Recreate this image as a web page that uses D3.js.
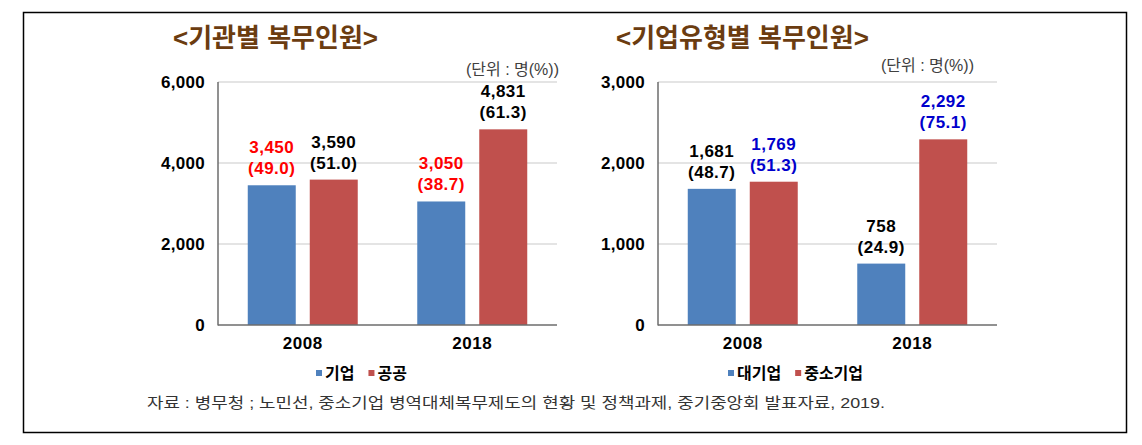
<!DOCTYPE html>
<html><head><meta charset="utf-8">
<script src="https://cdn.jsdelivr.net/npm/d3@7"></script>
<style>
html,body{margin:0;padding:0;background:#fff;}
svg{display:block;}
text{font-family:"Liberation Sans","Noto Sans CJK KR",sans-serif;}
</style></head>
<body>
<svg id="c" width="1142" height="445"></svg>
<script>
// ---- data ----
const years = ["2008", "2018"];
const leftTitle = "<기관별 복무인원>";
const rightTitle = "<기업유형별 복무인원>";
const unitText = "(단위 : 명(%))";
const leftSeriesNames = ["기업", "공공"];
const leftCorp = [3450, 3050];
const leftCorpPct = ["49.0", "38.7"];
const leftPublic = [3590, 4831];
const leftPublicPct = ["51.0", "61.3"];
const leftTicks = [0, 2000, 4000, 6000];
const rightSeriesNames = ["대기업", "중소기업"];
const rightLarge = [1681, 758];
const rightLargePct = ["48.7", "24.9"];
const rightSme = [1769, 2292];
const rightSmePct = ["51.3", "75.1"];
const rightTicks = [0, 1000, 2000, 3000];
const sourceText = "자료 :  병무청 ; 노민선, 중소기업 병역대체복무제도의 현황 및 정책과제, 중기중앙회 발표자료, 2019.";

const BLUE = "#4f81bd", RED = "#c0504d";
const svg = d3.select("#c");

// outer frame
svg.append("rect").attr("x", 23.5).attr("y", 12.5).attr("width", 1103).attr("height", 420)
  .attr("fill", "none").attr("stroke", "#000").attr("stroke-width", 1.5);

function panel(opt) {
  const g = svg.append("g");
  const y = d3.scaleLinear().domain([0, opt.max]).range([325, 82]);
  const x0 = d3.scaleBand().domain(years).range([opt.x0, opt.x1]).padding(0);
  const x1 = d3.scaleBand().domain(opt.names).range([0, x0.bandwidth()])
    .paddingInner(0.226).paddingOuter(0.48);

  // gridlines
  g.selectAll("line.grid").data(opt.ticks.filter(t => t > 0)).join("line")
    .attr("x1", opt.x0).attr("x2", opt.x1)
    .attr("y1", d => y(d)).attr("y2", d => y(d))
    .attr("stroke", "#e4e4e4").attr("stroke-width", 2);

  // bars
  const series = [
    {name: opt.names[0], vals: opt.a, pct: opt.aPct, color: BLUE, lc: opt.aLabel},
    {name: opt.names[1], vals: opt.b, pct: opt.bPct, color: RED, lc: opt.bLabel}
  ];
  series.forEach(s => {
    g.selectAll(null).data(years).join("rect")
      .attr("x", (d) => x0(d) + x1(s.name))
      .attr("y", (d, i) => y(s.vals[i]))
      .attr("width", x1.bandwidth())
      .attr("height", (d, i) => y(0) - y(s.vals[i]))
      .attr("fill", s.color);
    const lab = g.selectAll(null).data(years).join("text")
      .attr("text-anchor", "middle")
      .attr("font-size", 17).attr("font-weight", "bold")
      .attr("letter-spacing", 0.5)
      .attr("fill", s.lc);
    lab.append("tspan")
      .attr("x", d => x0(d) + x1(s.name) + x1.bandwidth() / 2)
      .attr("y", (d, i) => y(s.vals[i]) - 38).attr("dy", "0.35em")
      .text((d, i) => d3.format(",")(s.vals[i]));
    lab.append("tspan")
      .attr("x", d => x0(d) + x1(s.name) + x1.bandwidth() / 2)
      .attr("y", (d, i) => y(s.vals[i]) - 17).attr("dy", "0.35em")
      .text((d, i) => "(" + s.pct[i] + ")");
  });

  // y axis
  const ya = g.append("g").attr("transform", `translate(${opt.x0},0)`)
    .call(d3.axisLeft(y).tickValues(opt.ticks).tickSize(0).tickPadding(13).tickFormat(d3.format(",")));
  ya.select(".domain").remove();
  ya.selectAll("text").attr("font-size", 17).attr("font-weight", "bold").attr("fill", "#000")
    .attr("font-family", "Liberation Sans, sans-serif").attr("letter-spacing", 0.3);

  // x axis
  const xa = g.append("g").attr("transform", `translate(0,325)`)
    .call(d3.axisBottom(x0).tickSize(0));
  xa.select(".domain").remove();
  xa.selectAll("text").attr("y", 18).attr("dy", "0.35em").attr("font-size", 17)
    .attr("font-weight", "bold").attr("fill", "#000").attr("font-family", "Liberation Sans, sans-serif")
    .attr("letter-spacing", 0.5);

  // axis lines
  g.append("line").attr("x1", opt.x0).attr("x2", opt.x0).attr("y1", 82).attr("y2", 325.5)
    .attr("stroke", "#6d6d6d").attr("stroke-width", 1.5);
  g.append("line").attr("x1", opt.x0).attr("x2", opt.x1).attr("y1", 325).attr("y2", 325)
    .attr("stroke", "#6d6d6d").attr("stroke-width", 1.5);

  // title
  g.append("text").attr("x", opt.titleX).attr("y", 38).attr("dy", "0.35em")
    .attr("font-family", "Noto Sans CJK KR").attr("font-weight", "bold")
    .attr("font-size", 26).attr("fill", "#6b3c10").text(opt.title);
  // unit
  g.append("text").attr("x", opt.unitX).attr("y", opt.unitY).attr("dy", "0.35em")
    .attr("text-anchor", "end").attr("font-size", 16).attr("fill", "#404040")
    .attr("font-family", "Noto Sans CJK KR, sans-serif").text(unitText);

  // legend
  const lg = g.append("g").attr("transform", `translate(${opt.legX},373)`);
  let cx = 0;
  series.forEach((s, i) => {
    lg.append("rect").attr("x", cx).attr("y", -3).attr("width", 6).attr("height", 6).attr("fill", s.color);
    const t = lg.append("text").attr("x", cx + 9).attr("y", 0).attr("dy", "0.36em")
      .attr("font-family", "Noto Sans CJK KR").attr("font-weight", "bold")
      .attr("font-size", 16).attr("fill", "#000").text(s.name);
    cx += 9 + t.node().getComputedTextLength() + 14;
  });
}

panel({x0: 218, x1: 557, max: 6000, ticks: leftTicks, names: leftSeriesNames,
  a: leftCorp, aPct: leftCorpPct, b: leftPublic, bPct: leftPublicPct,
  aLabel: "#ff0000", bLabel: "#000000", title: leftTitle, titleX: 173,
  unitX: 559, unitY: 69, legX: 316});
panel({x0: 658, x1: 997, max: 3000, ticks: rightTicks, names: rightSeriesNames,
  a: rightLarge, aPct: rightLargePct, b: rightSme, bPct: rightSmePct,
  aLabel: "#000000", bLabel: "#0000cc", title: rightTitle, titleX: 616,
  unitX: 974, unitY: 65, legX: 728});

svg.append("text").attr("x", 147).attr("y", 403).attr("dy", "0.35em")
  .attr("font-family", "Noto Sans CJK KR, sans-serif").attr("font-size", 14.5)
  .attr("fill", "#333").attr("textLength", 738).attr("lengthAdjust", "spacingAndGlyphs")
  .text(sourceText);
</script>
</body></html>
